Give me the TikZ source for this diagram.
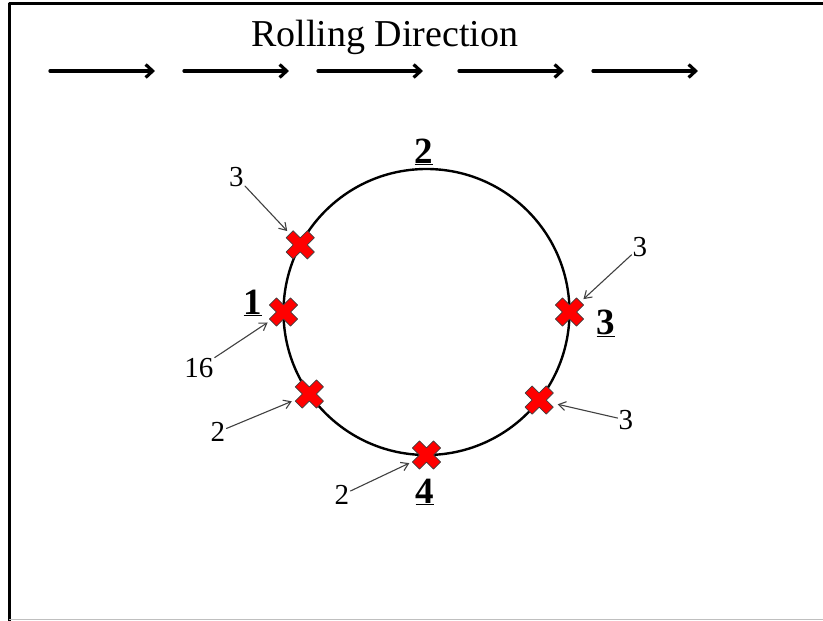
\documentclass[tikz,border=0pt]{standalone}
\usepackage{fontspec}
\setmainfont{Liberation Serif}
\usepackage{tikz}
\usetikzlibrary{arrows.meta}

\tikzset{
  redx/.pic={\filldraw[fill=red, draw=black!75, line width=0.7pt, rotate=45]
    (-5,-15) -- (5,-15) -- (5,-5) -- (15,-5) -- (15,5) -- (5,5) -- (5,15)
    -- (-5,15) -- (-5,5) -- (-15,5) -- (-15,-5) -- (-5,-5) -- cycle;},
  rollarrow/.style={line width=3.2pt, -{Straight Barb[length=7pt,width=13pt]}},
  lead/.style={draw=black!75, line width=1.1pt, shorten >=19pt,
    -{Straight Barb[length=7pt,width=9pt]}},
  count/.style={font=\fontsize{29}{30}\selectfont, inner sep=1pt},
  site/.style={font=\fontsize{37}{38}\selectfont\bfseries, inner sep=0pt}
}

\begin{document}
\begin{tikzpicture}[x=1pt, y=1pt, line cap=round, line join=round]
  \useasboundingbox (-426.5,-309) rectangle (396.5,312);

  % frame
  \draw[line width=2.4pt] (396.5,308.5) -- (-417,308.5) -- (-417,-309);
  \draw[black!25, line width=1pt] (-417,-307) -- (396.5,-307);

  % rolling direction
  \node[anchor=base, font=\fontsize{38}{40}\selectfont] (title) at (-41.5,265) {Rolling Direction};
  \foreach \i/\xs in {1/-376.5, 2/-242.5, 3/-108.5, 4/32.5, 5/166.5} {
    \coordinate (r\i a) at (\xs,241);
    \coordinate (r\i b) at (\xs+105,241);
    \draw[rollarrow] (r\i a) -- (r\i b);
  }

  % specimen
  \coordinate (o) at (0,0);
  \draw[line width=2.4pt] (o) circle (143);

  \coordinate (c1) at (152:143);
  \coordinate (c2) at (180:143);
  \coordinate (c3) at (215:143);
  \coordinate (c4) at (270:143);
  \coordinate (c5) at (322:143);
  \coordinate (c6) at (0:143);

  \node[site] (s1) at (-173.5,9)  {\underline{1}};
  \node[site] (s2) at (-2.5,160)  {\underline{2}};
  \node[site] (s3) at (179.5,-11) {\underline{3}};
  \node[site] (s4) at (-1.5,-180) {\underline{4}};

  \node[count] (n1) at (-190,135)   {3};
  \node[count] (n2) at (-227.5,-56) {16};
  \node[count] (n3) at (-208.5,-120) {2};
  \node[count] (n4) at (-84.5,-183) {2};
  \node[count] (n5) at (199.5,-108) {3};
  \node[count] (n6) at (213.5,65)   {3};

  \draw[lead] (n1) -- (c1);
  \draw[lead] (n2) -- (c2);
  \draw[lead] (n3) -- (c3);
  \draw[lead] (n4) -- (c4);
  \draw[lead] (n5) -- (c5);
  \draw[lead] (n6) -- (c6);

  \foreach \c in {c1,c2,c3,c4,c5,c6}
    \pic at (\c) {redx};
\end{tikzpicture}
\end{document}
